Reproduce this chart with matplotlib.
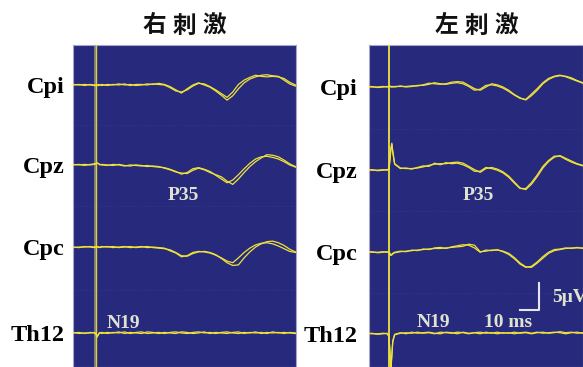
import matplotlib; matplotlib.use("Agg"); import matplotlib.pyplot as plt
import numpy as np

# ═══════ Data (μV) ═══════
t_ms = [-12, -9, -6, -3, -1, 0, 0.5, 1, 1.5, 2,
        3, 6, 9, 12, 15, 18, 21, 24, 27, 30, 33, 36, 39, 42, 45, 48, 51, 54, 57, 60,
        63, 66, 69, 72, 75, 78, 81, 84, 87, 90, 93, 96, 99, 102, 105]
channels = ["Cpi", "Cpz", "Cpc", "Th12"]
stim_time = 0

# right stimulation (left panel), two superimposed runs per channel
r_cpi_a = [0.0, 0.1, -0.1, 0.1, 0.0, 0.0, 0.0, -0.1, -0.1, 0.0,
           -0.1, 0.1, 0.0, 0.2, 0.0, 0.1, -0.1, 0.0, 0.2, 0.1, 0.3, 0.1, -0.3, -0.9, -1.5, -0.7, 0.0, 0.4, 0.0, -0.4,
           -1.1, -1.9, -2.8, -2.0, -0.7, 0.4, 1.1, 1.5, 1.8, 1.9, 1.7, 1.6, 0.9, 0.2, -0.2]
r_cpi_b = [0.1, 0.0, 0.1, 0.0, -0.1, -0.1, 0.0, 0.0, 0.1, 0.0,
           0.1, -0.1, 0.1, 0.0, 0.2, -0.1, 0.1, 0.1, 0.0, 0.2, 0.1, 0.0, -0.5, -1.1, -1.3, -0.9, -0.2, 0.3, 0.2, -0.3,
           -0.9, -1.6, -2.3, -1.3, 0.1, 0.9, 1.4, 1.8, 1.6, 1.5, 1.6, 1.5, 1.2, 0.5, 0.0]
r_cpz_a = [0.0, 0.1, -0.1, 0.1, 0.2, 0.3, 0.4, 0.3, 0.2, 0.1,
           0.0, -0.1, 0.1, 0.0, -0.2, 0.0, -0.1, -0.2, -0.1, -0.3, -0.4, -0.5, -0.8, -1.2, -1.7, -1.4, -0.7, -0.5, -0.8, -1.2,
           -1.9, -2.6, -3.3, -2.8, -1.8, -0.7, 0.3, 1.1, 1.5, 1.6, 1.4, 1.1, 0.6, 0.0, -0.4]
r_cpz_b = [0.1, 0.0, 0.1, 0.0, 0.1, 0.2, 0.3, 0.3, 0.2, 0.0,
           0.1, 0.0, -0.1, 0.1, -0.1, -0.2, 0.0, -0.1, -0.3, -0.2, -0.3, -0.6, -0.9, -1.3, -1.5, -1.6, -1.0, -0.6, -0.9, -1.4,
           -1.8, -2.2, -3.0, -3.6, -2.6, -1.4, -0.3, 0.6, 1.3, 1.9, 1.8, 1.5, 0.9, 0.2, -0.3]
r_cpc_a = [0.0, -0.1, 0.1, 0.0, -0.1, 0.0, 0.0, 0.1, 0.0, -0.1,
           0.0, 0.1, -0.1, 0.0, 0.1, -0.1, 0.0, 0.1, -0.1, 0.0, -0.1, -0.2, -0.7, -1.1, -1.8, -1.6, -1.0, -0.8, -0.9, -1.1,
           -1.5, -2.0, -2.6, -2.9, -2.0, -1.0, -0.2, 0.4, 0.7, 0.8, 0.6, 0.2, -0.3, -0.8, -1.0]
r_cpc_b = [-0.1, 0.0, 0.0, 0.1, 0.0, 0.1, 0.0, 0.0, -0.1, 0.0,
           0.1, 0.0, 0.1, -0.1, 0.0, 0.1, -0.1, 0.0, 0.1, -0.1, -0.2, -0.3, -0.5, -1.0, -1.6, -1.7, -1.2, -0.9, -0.8, -1.0,
           -1.4, -2.1, -2.9, -3.4, -3.3, -2.0, -0.9, 0.0, 0.6, 1.0, 1.1, 0.8, 0.3, -0.4, -0.9]
r_th12_a = [0.0, 0.1, -0.1, 0.1, 0.0, -0.2, -0.8, -0.5, -0.2, 0.0,
            0.1, -0.1, 0.1, 0.0, 0.2, -0.1, 0.1, 0.2, -0.1, 0.0, 0.1, -0.1, 0.1, 0.2, 0.0, -0.1, 0.1, 0.2, 0.0, 0.1,
            -0.1, 0.1, 0.2, 0.0, -0.1, 0.1, 0.0, 0.2, -0.1, 0.1, 0.0, 0.1, -0.1, 0.1, 0.0]
r_th12_b = [0.1, -0.1, 0.0, 0.0, 0.1, -0.1, -0.6, -0.4, -0.1, 0.1,
            -0.1, 0.1, 0.0, 0.2, -0.1, 0.1, 0.0, -0.1, 0.2, 0.1, -0.1, 0.1, 0.0, -0.1, 0.2, 0.1, -0.1, 0.0, 0.2, -0.1,
            0.1, 0.0, -0.1, 0.1, 0.2, -0.1, 0.1, 0.0, 0.1, -0.1, 0.2, 0.0, 0.1, 0.0, -0.1]

# left stimulation (right panel)
l_cpi_a = [0.0, 0.1, -0.1, 0.0, 0.1, 0.0, 0.2, 0.1, 0.0, 0.0,
           0.1, 0.1, 0.1, 0.2, 0.2, 0.4, 0.7, 0.6, 0.5, 0.6, 0.9, 1.0, 0.9, 0.3, -0.3, -0.6, 0.0, 0.6, 0.4, 0.0,
           -0.6, -1.4, -2.0, -2.4, -1.6, -0.6, 0.6, 1.4, 1.9, 2.1, 2.0, 1.7, 1.2, 0.8, 0.5]
l_cpi_b = [0.1, 0.0, 0.0, 0.1, 0.0, 0.1, 0.1, 0.0, 0.1, 0.1,
           0.0, 0.2, 0.0, 0.1, 0.3, 0.3, 0.5, 0.8, 0.6, 0.5, 0.7, 0.8, 0.6, 0.1, -0.6, -0.4, 0.3, 0.4, 0.2, -0.2,
           -0.8, -1.5, -2.1, -2.3, -1.3, -0.3, 0.8, 1.6, 2.0, 2.2, 1.9, 1.5, 1.1, 0.7, 0.4]
l_cpz_a = [0.0, 0.1, -0.1, 0.0, 0.1, 0.2, 2.0, 4.0, 5.0, 3.5,
           1.2, 0.4, 0.3, 0.3, 0.4, 0.6, 0.9, 1.1, 1.2, 1.2, 1.4, 1.5, 1.3, 0.7, 0.1, -0.4, 0.3, 0.5, 0.2, -0.3,
           -1.1, -2.2, -3.3, -3.6, -2.6, -1.2, 0.4, 1.6, 2.4, 2.7, 2.2, 1.7, 1.2, 0.9, 0.7]
l_cpz_b = [0.1, 0.0, 0.0, 0.1, 0.0, 0.1, 1.8, 3.8, 4.8, 3.3,
           1.1, 0.3, 0.4, 0.2, 0.5, 0.8, 0.7, 1.3, 1.0, 1.4, 1.2, 1.3, 1.0, 0.5, -0.2, -0.2, 0.5, 0.3, 0.0, -0.5,
           -1.3, -2.4, -3.4, -3.4, -2.3, -0.9, 0.7, 1.8, 2.6, 2.6, 2.0, 1.5, 1.1, 0.8, 0.6]
l_cpc_a = [0.0, 0.1, -0.1, 0.0, 0.1, 0.0, -0.3, -0.6, -0.5, -0.3,
           -0.1, 0.1, 0.2, 0.3, 0.4, 0.5, 0.6, 0.7, 0.7, 0.8, 0.9, 1.0, 1.1, 1.5, 1.3, 0.1, 0.2, 0.4, 0.4, 0.2,
           -0.2, -1.0, -2.0, -2.7, -2.8, -2.0, -1.1, -0.2, 0.3, 0.5, 0.7, 0.8, 0.8, 0.8, 0.8]
l_cpc_b = [0.1, 0.0, 0.0, 0.1, 0.0, 0.1, -0.2, -0.5, -0.4, -0.2,
           0.0, 0.2, 0.1, 0.4, 0.3, 0.6, 0.5, 0.8, 0.9, 0.7, 1.0, 1.2, 1.4, 1.3, 0.8, 0.0, 0.4, 0.3, 0.5, 0.1,
           -0.4, -1.2, -2.2, -2.8, -2.6, -1.8, -0.8, 0.0, 0.5, 0.6, 0.8, 0.7, 0.9, 0.7, 0.8]
l_th12_a = [0.0, 0.1, -0.1, 0.0, 0.1, -0.5, -3.5, -6.5, -4.0, -1.5,
            -0.2, 0.1, 0.2, 0.1, 0.3, 0.1, 0.2, 0.0, 0.3, 0.2, 0.1, 0.3, 0.2, 0.0, 0.2, 0.3, 0.1, 0.2, 0.0, 0.2,
            0.1, 0.3, 0.1, 0.2, 0.0, 0.2, 0.3, 0.1, 0.2, 0.4, 0.2, 0.3, 0.1, 0.2, 0.0]
l_th12_b = [0.1, 0.0, 0.0, 0.1, 0.0, -0.4, -3.2, -6.8, -4.2, -1.3,
            -0.1, 0.2, 0.0, 0.3, 0.1, 0.2, 0.3, 0.1, 0.0, 0.3, 0.2, 0.0, 0.3, 0.1, 0.2, 0.0, 0.3, 0.1, 0.3, 0.1,
            0.2, 0.0, 0.2, 0.3, 0.1, 0.3, 0.1, 0.2, 0.3, 0.2, 0.0, 0.2, 0.3, 0.1, 0.2]

# ═══════ Layout / style ═══════
W, H = 583, 367
bg = "#272a7c"
trace_c = "#efe23c"
note_c = "#dfe2cf"
serif = ["Liberation Serif", "DejaVu Serif"]
cjk = ["Noto Sans CJK SC", "DejaVu Sans"]

panels = [
    dict(title="右刺激", rect=[73, 296], xlim=(-12.1, 105.3), ylim=(-52.2, 7.4),
         offsets=[0, -14.8, -30.0, -45.9],
         traces=[(r_cpi_a, r_cpi_b), (r_cpz_a, r_cpz_b), (r_cpc_a, r_cpc_b), (r_th12_a, r_th12_b)],
         notes=[("P35", 45.8, -20.4), ("N19", 14.7, -44.1)], label_dx=-8, stim_gray=True, bar=False),
    dict(title="左刺激", rect=[369, 583], xlim=(-10.5, 102.1), ylim=(-51.85, 7.78),
         offsets=[0, -15.4, -30.6, -45.7],
         traces=[(l_cpi_a, l_cpi_b), (l_cpz_a, l_cpz_b), (l_cpc_a, l_cpc_b), (l_th12_a, l_th12_b)],
         notes=[("P35", 46.8, -20.0), ("N19", 23.2, -43.7), ("10 ms", 62.6, -43.7)], label_dx=-11,
         stim_gray=False, bar=True),
]

fig = plt.figure(figsize=(W / 100, H / 100), dpi=100)
t = np.array(t_ms)

for p in panels:
    x0, x1 = p["rect"]
    ax = fig.add_axes([x0 / W, 0, (x1 - x0) / W, (H - 45) / H])
    ax.set_facecolor(bg)
    ax.set_xlim(*p["xlim"]); ax.set_ylim(*p["ylim"])
    ax.set_xticks([]); ax.set_yticks([])
    for s in ax.spines.values():
        s.set_color("#a4a6cc"); s.set_linewidth(0.8)

    offs = p["offsets"]
    # faint grid between channels
    for a, b in zip(offs[:-1], offs[1:]):
        ax.axhline((a + b) / 2, color="#34388c", lw=0.6, ls=":", zorder=1)

    # stimulus marker
    if p["stim_gray"]:
        ax.axvline(stim_time - 0.5, color="#8e8c6a", lw=1.2, zorder=2)
        ax.axvline(stim_time, color="#d8cf45", lw=1.0, zorder=3)
    else:
        ax.axvline(stim_time, color=trace_c, lw=1.3, zorder=3)

    for name, off, (ya, yb) in zip(channels, offs, p["traces"]):
        ax.plot(t, np.array(ya) + off, color=trace_c, lw=0.9, zorder=4)
        ax.plot(t, np.array(yb) + off, color=trace_c, lw=0.9, zorder=4)
        ax.annotate(name, xy=(0, off), xycoords=ax.get_yaxis_transform(),
                    xytext=(p["label_dx"], -8), textcoords="offset pixels",
                    ha="right", va="baseline", fontsize=17.5, fontweight="bold",
                    family=serif, color="black", annotation_clip=False)

    for txt, x, y in p["notes"]:
        ax.text(x, y, txt, ha="center", va="center", fontsize=14, fontweight="bold",
                family=serif, color=note_c, zorder=5)

    if p["bar"]:
        ax.plot([69, 79, 79], [-41.3, -41.3, -36.3], color="#e6e4f2", lw=1.5, zorder=5)
        ax.text(85.8, -38.9, "5μV", ha="left", va="center", fontsize=14, fontweight="bold",
                family=serif, color=note_c, zorder=5, clip_on=False)

    # spaced-out title characters
    cx = (x0 + x1) / 2
    for k, ch in enumerate(p["title"]):
        fig.text((cx + (k - 1) * 30) / W, 1 - 25.5 / H, ch, ha="center", va="center",
                 fontsize=17, fontweight="heavy", family=cjk, color="#111111")

plt.savefig("out.png", dpi=100)
